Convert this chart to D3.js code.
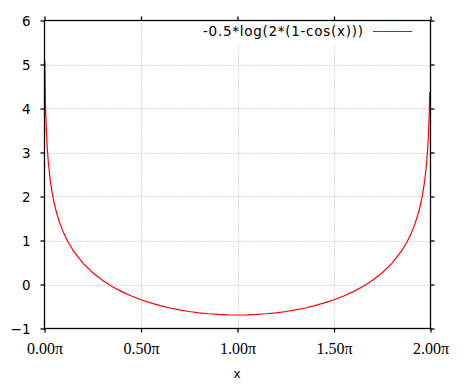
<!DOCTYPE html>
<html><head><meta charset="utf-8">
<script src="https://cdn.jsdelivr.net/npm/d3@7"></script>
<style>body{margin:0;background:#fff;}svg{display:block;}</style>
</head><body>
<svg id="c" width="466" height="387"></svg>
<script>
// x in units of pi, y
const xVals = [0.002,0.004,0.006,0.01,0.015,0.02,0.03,0.04,0.05,0.06,0.08,0.10,0.12,0.15,0.2,0.25,0.3,0.35,0.4,0.45,0.5,0.55,0.6,0.65,0.7,0.75,0.8,0.85,0.9,0.95,1.0,
  1.05,1.1,1.15,1.2,1.25,1.3,1.35,1.4,1.45,1.5,1.55,1.6,1.65,1.7,1.75,1.8,1.85,1.88,1.9,1.92,1.94,1.95,1.96,1.97,1.98,1.985,1.99,1.994,1.996];
const yVals = [5.070,4.377,3.971,3.460,3.055,2.767,2.362,2.075,1.852,1.670,1.384,1.162,0.982,0.762,0.481,0.267,0.097,-0.044,-0.162,-0.262,-0.347,-0.419,-0.481,-0.534,-0.578,-0.614,-0.643,-0.665,-0.681,-0.690,-0.693,
  -0.690,-0.681,-0.665,-0.643,-0.614,-0.578,-0.534,-0.481,-0.419,-0.347,-0.262,-0.162,-0.044,0.097,0.267,0.481,0.762,0.982,1.162,1.384,1.670,1.852,2.075,2.362,2.767,3.055,3.460,3.971,4.377];
const xTicks = [0, 0.5, 1, 1.5, 2];
const xTickLabels = ["0.00π","0.50π","1.00π","1.50π","2.00π"];
const yTicks = [-1,0,1,2,3,4,5,6];
const legendLabel = "-0.5*log(2*(1-cos(x)))";
const xLabel = "x";

const L=44.5, R=430.5, T=20.5, B=328.5;
const svg = d3.select("#c");
const x = d3.scaleLinear().domain([0,2]).range([L,R]);
const y = d3.scaleLinear().domain([-1,6]).range([B,T]);

// grid
const g = svg.append("g");
g.selectAll(".gx").data(xTicks.slice(1,-1)).enter().append("line")
  .attr("x1",d=>Math.round(x(d))+0.5).attr("x2",d=>Math.round(x(d))+0.5).attr("y1",T).attr("y2",B)
  .attr("stroke","#b0b0b0").attr("stroke-dasharray","1,2");
g.selectAll(".gy").data(yTicks.slice(1,-1)).enter().append("line")
  .attr("y1",d=>Math.round(y(d))+0.5).attr("y2",d=>Math.round(y(d))+0.5).attr("x1",L).attr("x2",R)
  .attr("stroke","#b0b0b0").attr("stroke-dasharray","1,2");

// legend background
svg.append("rect").attr("x",200).attr("y",25).attr("width",225).attr("height",21).attr("fill","#fff");

// curve
svg.append("clipPath").attr("id","cp").append("rect").attr("x",L).attr("y",T).attr("width",R-L).attr("height",B-T);
const pts = xVals.map((v,i)=>[v,yVals[i]]);
svg.append("path").datum(pts).attr("clip-path","url(#cp)")
  .attr("d", d3.line().x(d=>x(d[0])).y(d=>y(d[1])))
  .attr("fill","none").attr("stroke","#ff0000").attr("stroke-width",1.2);

// frame
svg.append("rect").attr("x",L).attr("y",T).attr("width",R-L).attr("height",B-T)
  .attr("fill","none").attr("stroke","#000").attr("stroke-width",1.3);

// axes (outward ticks, mirrored)
const axB = d3.axisBottom(x).tickValues(xTicks).tickSize(4).tickFormat((d,i)=>xTickLabels[i]);
const axT = d3.axisTop(x).tickValues(xTicks).tickSize(4).tickFormat("");
const axL = d3.axisLeft(y).tickValues(yTicks).tickSize(4).tickFormat(d3.format("d"));
const axR = d3.axisRight(y).tickValues(yTicks).tickSize(4).tickFormat("");
function style(sel){ sel.select(".domain").remove(); sel.selectAll(".tick line").attr("stroke","#000").attr("stroke-width",1.3); }
const gb = svg.append("g").attr("transform",`translate(0,${B})`).call(axB).call(style);
gb.selectAll("text").attr("font-family","'Liberation Serif', serif").attr("font-size",16).attr("fill","#000").attr("dy",null).attr("y",25);
svg.append("g").attr("transform",`translate(0,${T})`).call(axT).call(style);
const gl = svg.append("g").attr("transform",`translate(${L},0)`).call(axL).call(style);
gl.selectAll("text").attr("font-family","'DejaVu Sans', sans-serif").attr("font-size",13.5).attr("fill","#000").attr("x",-14).attr("dy","0.35em");
svg.append("g").attr("transform",`translate(${R},0)`).call(axR).call(style);

// legend
svg.append("text").attr("x",363).attr("y",36).attr("text-anchor","end")
  .attr("font-family","'DejaVu Sans', sans-serif").attr("font-size",13.5)
  .attr("textLength",160).attr("lengthAdjust","spacing").attr("fill","#000").text(legendLabel);
svg.append("line").attr("x1",373).attr("x2",412).attr("y1",31.5).attr("y2",31.5).attr("stroke","#ff0000").attr("stroke-width",1.2);

// x label
svg.append("text").attr("x",237).attr("y",378).attr("text-anchor","middle")
  .attr("font-family","'DejaVu Sans', sans-serif").attr("font-size",12).attr("fill","#000").text(xLabel);
</script>
</body></html>
